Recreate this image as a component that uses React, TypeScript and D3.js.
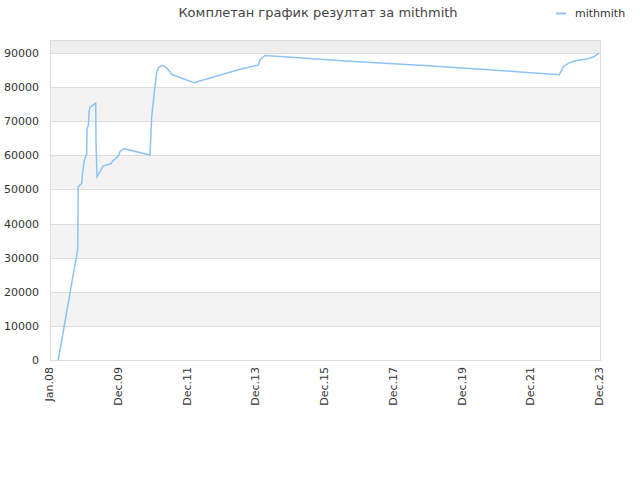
import React from "react";
import * as d3 from "d3";

const title = "Комплетан график резултат за mithmith";
const seriesName = "mithmith";

const dates = [
  "2008-03-28", "2008-10-20", "2008-10-25", "2008-12-01", "2008-12-12", "2008-12-29",
  "2009-01-23", "2009-01-26", "2009-02-10", "2009-02-17", "2009-02-27", "2009-04-03",
  "2009-04-28", "2009-05-01", "2009-05-12", "2009-06-13", "2009-07-17", "2009-10-03",
  "2009-10-31", "2009-12-23", "2010-01-10", "2010-02-21", "2010-11-23", "2010-12-11",
  "2010-12-28", "2011-01-14", "2011-02-01", "2011-02-22", "2011-04-05", "2011-05-10",
  "2011-07-19", "2012-03-02", "2013-07-01", "2014-01-11", "2014-01-29", "2014-03-23",
  "2014-08-28", "2016-09-01", "2018-11-01", "2021-01-10", "2021-08-08", "2022-09-27",
  "2022-11-08", "2023-01-01", "2023-02-06", "2023-03-30", "2023-07-13", "2023-09-21",
  "2023-11-20",
];

const values = [
  0, 32460, 50800, 51800, 55200, 58650,
  60400, 67650, 68900, 72800, 74100, 74800,
  75300, 64500, 53750, 55200, 56900, 57500,
  58450, 59800, 61100, 61950, 60100, 71350,
  75750, 80150, 84050, 85800, 86400, 85800,
  83600, 81300, 85250, 86500, 88000, 89250,
  88950, 87600, 86300, 84850, 84450, 83600,
  86000, 86950, 87450, 87800, 88200, 88800,
  89950,
];

const yTicks = [0, 10000, 20000, 30000, 40000, 50000, 60000, 70000, 80000, 90000];
const xTickLabels = ["Jan.08", "Dec.09", "Dec.11", "Dec.13", "Dec.15", "Dec.17", "Dec.19", "Dec.21", "Dec.23"];

const W = 640;
const H = 480;
const left = 50;
const right = 600;
const top = 40;
const bottom = 360;
const font = "'DejaVu Sans', Verdana, sans-serif";

export default function App() {
  const parse = d3.timeParse("%Y-%m-%d");
  const data = dates.map((d, i) => ({ date: parse(d) as Date, value: values[i] }));

  const x = d3
    .scaleTime()
    .domain([parse("2008-01-01") as Date, parse("2023-12-01") as Date])
    .range([left, right]);
  const y = d3.scaleLinear().domain([0, 93800]).range([bottom, top]);
  const xl = d3.scalePoint<string>().domain(xTickLabels).range([left, right]);

  const line = d3
    .line<{ date: Date; value: number }>()
    .x((d) => x(d.date))
    .y((d) => y(d.value));

  const bands: { y0: number; y1: number; fill: string }[] = [];
  for (let i = 0; i < yTicks.length; i++) {
    const v0 = yTicks[i];
    const v1 = i + 1 < yTicks.length ? yTicks[i + 1] : y.domain()[1];
    const isTop = i === yTicks.length - 1;
    const fill = isTop ? "#eeeeee" : i % 2 === 1 ? "#f3f3f3" : "#ffffff";
    bands.push({ y0: y(v1), y1: y(v0), fill });
  }

  return (
    <svg
      width={W}
      height={H}
      style={{ position: "absolute", left: 0, top: 0, background: "#fff" }}
    >
      <rect x={0} y={0} width={W} height={H} fill="#fff" />
      <text
        x={318}
        y={17}
        textAnchor="middle"
        fontFamily={font}
        fontSize={13}
        fill="#444"
      >
        {title}
      </text>
      <line x1={556} x2={566} y1={13.5} y2={13.5} stroke="#8ec3f7" strokeWidth={2} />
      <text x={575} y={17} fontFamily={font} fontSize={11} fill="#333">
        {seriesName}
      </text>

      {bands.map((b, i) => (
        <rect key={i} x={left} y={b.y0} width={right - left} height={b.y1 - b.y0} fill={b.fill} />
      ))}
      {yTicks.map((t) => (
        <line
          key={"g" + t}
          x1={left}
          x2={right}
          y1={Math.round(y(t)) + 0.5}
          y2={Math.round(y(t)) + 0.5}
          stroke="#dddddd"
          strokeWidth={1}
        />
      ))}
      <rect
        x={left + 0.5}
        y={top + 0.5}
        width={right - left}
        height={bottom - top}
        fill="none"
        stroke="#dddddd"
        strokeWidth={1}
      />
      {yTicks.map((t) => (
        <text
          key={"yl" + t}
          x={39}
          y={y(t) + 4}
          textAnchor="end"
          fontFamily={font}
          fontSize={11}
          fill="#333"
        >
          {t}
        </text>
      ))}
      {xTickLabels.map((l) => (
        <text
          key={l}
          transform={`translate(${(xl(l) as number) + 3},367) rotate(-90)`}
          textAnchor="end"
          fontFamily={font}
          fontSize={11}
          fill="#333"
        >
          {l}
        </text>
      ))}
      <path d={line(data) || ""} fill="none" stroke="#8ec3f7" strokeWidth={1.5} />
    </svg>
  );
}
